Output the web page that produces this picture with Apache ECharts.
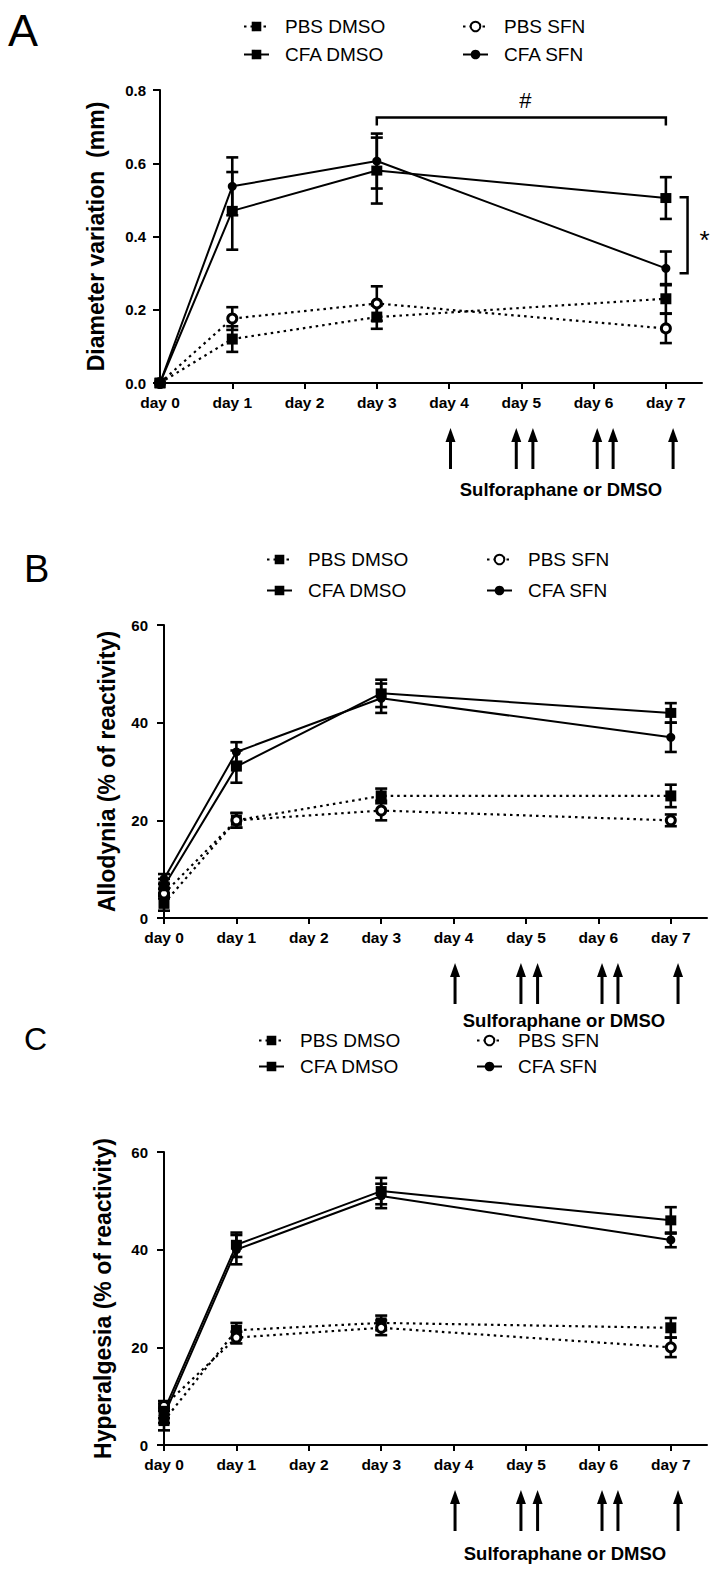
<!DOCTYPE html>
<html><head><meta charset="utf-8">
<script src="https://cdn.jsdelivr.net/npm/echarts@6/dist/echarts.min.js"></script>
<style>html,body{margin:0;padding:0;background:#fff}#c{width:728px;height:1570px}</style>
</head><body><div id="c"></div>
<script>
// ---------- data ----------
const days = [0, 1, 3, 7];
const dayTicks = [0, 1, 2, 3, 4, 5, 6, 7];
const groupNames = ['PBS DMSO', 'PBS SFN', 'CFA DMSO', 'CFA SFN'];

// Panel A: diameter variation (mm)
const diamPbsDmso = [0, 0.12, 0.18, 0.23];
const diamPbsDmsoErr = [0, 0.035, 0.032, 0.04];
const diamPbsSfn = [0, 0.176, 0.217, 0.149];
const diamPbsSfnErr = [0, 0.031, 0.047, 0.04];
const diamCfaDmso = [0, 0.47, 0.58, 0.505];
const diamCfaDmsoErr = [0, 0.106, 0.09, 0.057];
const diamCfaSfn = [0, 0.537, 0.606, 0.313];
const diamCfaSfnErr = [0, 0.079, 0.075, 0.046];
const diamTicks = [0, 0.2, 0.4, 0.6, 0.8];

// Panel B: allodynia (% of reactivity)
const alloPbsDmso = [3, 20, 25, 25];
const alloPbsDmsoErr = [1.5, 1.5, 1.5, 2.3];
const alloPbsSfn = [5, 20, 22, 20];
const alloPbsSfnErr = [1, 1.5, 2, 1.2];
const alloCfaDmso = [6.5, 31, 46, 42];
const alloCfaDmsoErr = [1.5, 3.3, 2.8, 2];
const alloCfaSfn = [8, 34, 45, 37];
const alloCfaSfnErr = [1, 2, 3, 3];

// Panel C: hyperalgesia (% of reactivity)
const hyperPbsDmso = [5, 23.5, 25, 24];
const hyperPbsDmsoErr = [2, 1.5, 1.5, 2];
const hyperPbsSfn = [8, 22, 24, 20];
const hyperPbsSfnErr = [1, 1.2, 1.5, 2];
const hyperCfaDmso = [7, 41, 52, 46];
const hyperCfaDmsoErr = [1.5, 2.5, 2.7, 2.7];
const hyperCfaSfn = [6, 40, 51, 42];
const hyperCfaSfnErr = [1.5, 3, 2.5, 1.5];
const pctTicks = [0, 20, 40, 60];

// treatment arrows (days)
const arrowDays = [4.02, 4.93, 5.16, 6.05, 6.27, 7.1];
// significance brackets in panel A: [fromDay, toDay, level] and [day, top, bottom]
const hashBracket = [3, 7, 0.725];
const starBracket = [7.3, 0.507, 0.30];

// ---------- styling ----------
const FONT = "'Liberation Sans', Arial, Helvetica, sans-serif";
const DOT = [2.5, 4];
const styles = {
  'PBS DMSO': {symbol: 'rect', symbolSize: 11, itemStyle: {color: '#000'}, lineStyle: {color: '#000', width: 2.2, type: DOT}},
  'PBS SFN': {symbol: 'circle', symbolSize: 9, itemStyle: {color: '#fff', borderColor: '#000', borderWidth: 3}, lineStyle: {color: '#000', width: 2.2, type: DOT}},
  'CFA DMSO': {symbol: 'rect', symbolSize: [11, 10], itemStyle: {color: '#000'}, lineStyle: {color: '#000', width: 2}},
  'CFA SFN': {symbol: 'circle', symbolSize: 9, itemStyle: {color: '#000'}, lineStyle: {color: '#000', width: 2}}
};

const panels = [
  {vals: [diamPbsDmso, diamPbsSfn, diamCfaDmso, diamCfaSfn], errs: [diamPbsDmsoErr, diamPbsSfnErr, diamCfaDmsoErr, diamCfaSfnErr],
   grid: {left: 160, top: 90, width: 542, height: 293}, yMax: 0.8, yInt: 0.2, yDec: 1, yName: 'Diameter variation  (mm)', nameGap: 53, labFs: 15, labMargin: 14},
  {vals: [alloPbsDmso, alloPbsSfn, alloCfaDmso, alloCfaSfn], errs: [alloPbsDmsoErr, alloPbsSfnErr, alloCfaDmsoErr, alloCfaSfnErr],
   grid: {left: 164, top: 625, width: 543, height: 293}, yMax: 60, yInt: 20, yDec: 0, yName: 'Allodynia (% of reactivity)', nameGap: 46, labFs: 15, labMargin: 16},
  {vals: [hyperPbsDmso, hyperPbsSfn, hyperCfaDmso, hyperCfaSfn], errs: [hyperPbsDmsoErr, hyperPbsSfnErr, hyperCfaDmsoErr, hyperCfaSfnErr],
   grid: {left: 164, top: 1152, width: 543, height: 293}, yMax: 60, yInt: 20, yDec: 0, yName: 'Hyperalgesia (% of reactivity)', nameGap: 50, labFs: 15, labMargin: 16}
];

const grids = [], xAxes = [], yAxes = [], series = [];
const axisLine = {lineStyle: {color: '#000', width: 2}};
const axisTickStyle = {lineStyle: {color: '#000', width: 2}};

function errRender(params, api) {
  const x = api.value(0);
  const lo = api.coord([x, api.value(1)]);
  const hi = api.coord([x, api.value(2)]);
  if (Math.abs(lo[1] - hi[1]) < 0.5) return null;
  const w = 6, st = {stroke: '#000', lineWidth: 2.6};
  return {type: 'group', children: [
    {type: 'line', shape: {x1: lo[0], y1: lo[1], x2: hi[0], y2: hi[1]}, style: st},
    {type: 'line', shape: {x1: lo[0] - w, y1: lo[1], x2: lo[0] + w, y2: lo[1]}, style: st},
    {type: 'line', shape: {x1: hi[0] - w, y1: hi[1], x2: hi[0] + w, y2: hi[1]}, style: st}
  ]};
}
function arrowRender(params, api) {
  const p = api.coord([api.value(0), 0]);
  const tip = p[1] + 45, tail = p[1] + 86, hl = 14, hw = 5;
  return {type: 'group', children: [
    {type: 'line', shape: {x1: p[0], y1: tip + hl - 1, x2: p[0], y2: tail}, style: {stroke: '#000', lineWidth: 3}},
    {type: 'polygon', shape: {points: [[p[0], tip], [p[0] - hw, tip + hl], [p[0] + hw, tip + hl]]}, style: {fill: '#000'}}
  ]};
}

panels.forEach((pn, gi) => {
  grids.push(pn.grid);
  xAxes.push({type: 'value', gridIndex: gi, min: 0, max: 7.5,
    axisLine: axisLine, splitLine: {show: false},
    axisTick: {show: true, length: 6, customValues: dayTicks, lineStyle: axisTickStyle.lineStyle},
    axisLabel: {customValues: dayTicks, formatter: v => 'day ' + v, margin: 11, color: '#000', fontFamily: FONT, fontWeight: 'bold', fontSize: 15.5}});
  yAxes.push({type: 'value', gridIndex: gi, min: 0, max: pn.yMax, interval: pn.yInt,
    axisLine: {show: true, lineStyle: {color: '#000', width: 2}}, splitLine: {show: false},
    axisTick: {show: true, length: 7, lineStyle: axisTickStyle.lineStyle},
    axisLabel: {formatter: v => v.toFixed(pn.yDec), margin: pn.labMargin, color: '#000', fontFamily: FONT, fontWeight: 'bold', fontSize: pn.labFs},
    name: pn.yName, nameLocation: 'middle', nameGap: pn.nameGap,
    nameTextStyle: {color: '#000', fontFamily: FONT, fontWeight: 'bold', fontSize: 23}});
  // error bars
  groupNames.forEach((nm, si) => {
    series.push({type: 'custom', xAxisIndex: gi, yAxisIndex: gi, z: 2, silent: true,
      data: days.map((d, i) => [d, pn.vals[si][i] - pn.errs[si][i], pn.vals[si][i] + pn.errs[si][i]]),
      encode: {x: 0, y: [1, 2]}, renderItem: errRender, clip: false});
  });
  // lines
  groupNames.forEach((nm, si) => {
    const s = styles[nm];
    series.push(Object.assign({type: 'line', name: nm, xAxisIndex: gi, yAxisIndex: gi, z: 3,
      data: days.map((d, i) => [d, pn.vals[si][i]]), showSymbol: true, symbolKeepAspect: false,
      emphasis: {disabled: true}, silent: true}, JSON.parse(JSON.stringify(s))));
  });
  // treatment arrows
  series.push({type: 'custom', xAxisIndex: gi, yAxisIndex: gi, silent: true, clip: false,
    data: arrowDays.map(d => [d]), encode: {x: 0}, renderItem: arrowRender});
});

// significance brackets (panel A)
series.push({type: 'custom', xAxisIndex: 0, yAxisIndex: 0, silent: true, clip: false,
  data: [hashBracket], encode: {x: [0, 1], y: 2},
  renderItem: (params, api) => {
    const a = api.coord([api.value(0), api.value(2)]);
    const b = api.coord([api.value(1), api.value(2)]);
    const st = {stroke: '#000', lineWidth: 2.5, fill: null};
    return {type: 'group', children: [
      {type: 'polyline', shape: {points: [[a[0], a[1] + 8], [a[0], a[1]], [b[0], b[1]], [b[0], b[1] + 8]]}, style: st},
      {type: 'text', style: {text: '#', x: (a[0] + b[0]) / 2 + 4, y: a[1] - 17, align: 'center', verticalAlign: 'middle',
        fontSize: 22, fontFamily: FONT, fill: '#000'}}
    ]};
  }});
series.push({type: 'custom', xAxisIndex: 0, yAxisIndex: 0, silent: true, clip: false,
  data: [starBracket], encode: {x: 0, y: [1, 2]},
  renderItem: (params, api) => {
    const a = api.coord([api.value(0), api.value(1)]);
    const b = api.coord([api.value(0), api.value(2)]);
    const st = {stroke: '#000', lineWidth: 2.5, fill: null};
    return {type: 'group', children: [
      {type: 'polyline', shape: {points: [[a[0] - 8, a[1]], [a[0], a[1]], [b[0], b[1]], [b[0] - 8, b[1]]]}, style: st},
      {type: 'text', style: {text: '*', x: a[0] + 17, y: (a[1] + b[1]) / 2 + 5, align: 'center', verticalAlign: 'middle',
        fontSize: 26, fontFamily: FONT, fill: '#000'}}
    ]};
  }});

function leg(name, left, top) {
  return {data: [name], left: left, top: top, orient: 'horizontal', padding: 0, itemWidth: 25, itemHeight: 12,
    selectedMode: false, textStyle: {fontFamily: FONT, fontSize: 19, color: '#000', lineHeight: 16, padding: [0, 0, 0, 11]}};
}
const legends = [
  leg('PBS DMSO', 243, 17), leg('PBS SFN', 462, 17), leg('CFA DMSO', 243, 45), leg('CFA SFN', 462, 45),
  leg('PBS DMSO', 266, 550), leg('PBS SFN', 486, 550), leg('CFA DMSO', 266, 581), leg('CFA SFN', 486, 581),
  leg('PBS DMSO', 258, 1031), leg('PBS SFN', 476, 1031), leg('CFA DMSO', 258, 1057), leg('CFA SFN', 476, 1057)
];

function txt(t, x, y, fs, bold, align, lh) {
  return {type: 'text', x: x, y: y, style: {text: t, fontSize: fs, fontFamily: FONT, fontWeight: bold ? 'bold' : 'normal',
    fill: '#000', align: align || 'left', verticalAlign: 'middle', lineHeight: lh || fs}};
}
const graphics = [
  txt('A', 8, 30, 45, false), txt('B', 24, 569, 38, false), txt('C', 24, 1039, 32, false),
  txt('Sulforaphane or DMSO', 561, 489, 18.5, true, 'center', 17),
  txt('Sulforaphane or DMSO', 564, 1020, 18.5, true, 'center', 17),
  txt('Sulforaphane or DMSO', 565, 1553, 18.5, true, 'center', 17)
];

const chart = echarts.init(document.getElementById('c'), null, {renderer: 'svg', width: 728, height: 1570});
chart.setOption({
  animation: false, backgroundColor: '#fff',
  grid: grids, xAxis: xAxes, yAxis: yAxes, legend: legends, series: series, graphic: graphics
});
</script></body></html>
